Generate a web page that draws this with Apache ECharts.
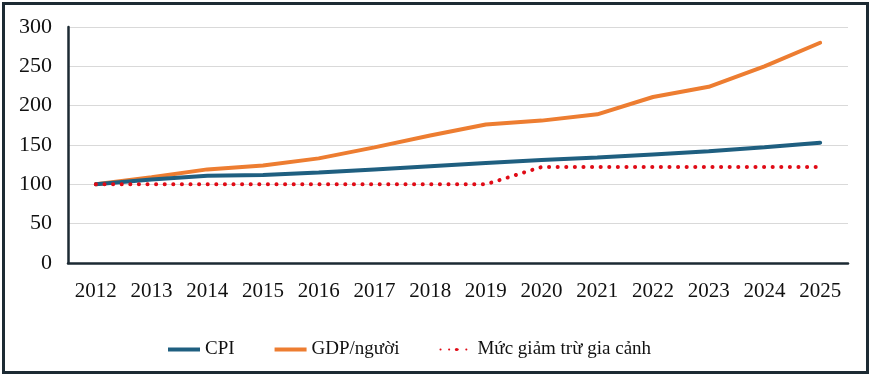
<!DOCTYPE html>
<html>
<head>
<meta charset="utf-8">
<script src="https://cdn.jsdelivr.net/npm/echarts@6/dist/echarts.min.js"></script>
<style>
  html, body { margin: 0; padding: 0; background: #fff; }
  #frame { position: absolute; left: 2px; top: 2px; width: 861px; height: 366px; border: 3px solid #1c2a33; }
  #main { position: absolute; left: 0; top: 0; width: 871px; height: 376px; }
</style>
</head>
<body>
<div id="frame"></div>
<div id="main"></div>
<script>
const years = ['2012', '2013', '2014', '2015', '2016', '2017', '2018', '2019', '2020', '2021', '2022', '2023', '2024', '2025'];
const cpi = [100, 106, 111, 112, 115, 119, 123, 127, 131, 134, 138, 142, 147, 153];
const gdpPerCapita = [100, 109, 119, 124, 133, 147, 162, 176, 181, 189, 211, 224, 250, 280];
const familyDeduction = [100, 100, 100, 100, 100, 100, 100, 100, 122, 122, 122, 122, 122, 122];

const font = '"Liberation Serif", serif';

let myChart = echarts.init(document.getElementById('main'));
myChart.setOption({
    animation: false,
    grid: { left: 68, right: 23, top: 27, bottom: 113 },
    legend: {
        bottom: 12,
        left: 163,
        itemWidth: 32,
        itemHeight: 4,
        itemGap: 40,
        textStyle: { fontFamily: font, fontSize: 19, color: '#111' },
        data: [
            { name: 'CPI', icon: 'rect' },
            { name: 'GDP/người', icon: 'rect' },
            { name: 'Mức giảm trừ gia cảnh' }
        ]
    },
    xAxis: {
        type: 'category',
        data: years,
        boundaryGap: true,
        axisLine: { lineStyle: { color: '#1c2a33', width: 2.5 } },
        axisTick: { show: false },
        axisLabel: { fontFamily: font, fontSize: 21, color: '#111', margin: 18, interval: 0 }
    },
    yAxis: {
        type: 'value',
        min: 0,
        max: 300,
        interval: 50,
        axisLine: { show: true, lineStyle: { color: '#1c2a33', width: 2.5 } },
        axisTick: { show: false },
        splitLine: { lineStyle: { color: '#d9d9d9', width: 1 } },
        axisLabel: { fontFamily: font, fontSize: 22, color: '#111', margin: 16 }
    },
    series: [
        {
            name: 'CPI',
            type: 'line',
            data: cpi,
            symbol: 'none',
            itemStyle: { color: '#1f5f80' },
            lineStyle: { color: '#1f5f80', width: 4, cap: 'round' },
            z: 3
        },
        {
            name: 'GDP/người',
            type: 'line',
            data: gdpPerCapita,
            symbol: 'none',
            itemStyle: { color: '#ed7d31' },
            lineStyle: { color: '#ed7d31', width: 4, cap: 'round' },
            z: 2
        },
        {
            name: 'Mức giảm trừ gia cảnh',
            type: 'line',
            data: familyDeduction,
            symbol: 'none',
            itemStyle: { color: '#e00b16' },
            lineStyle: { color: '#e00b16', width: 4, type: [0.1, 8.5], cap: 'round' },
            z: 4
        }
    ]
});
</script>
</body>
</html>
